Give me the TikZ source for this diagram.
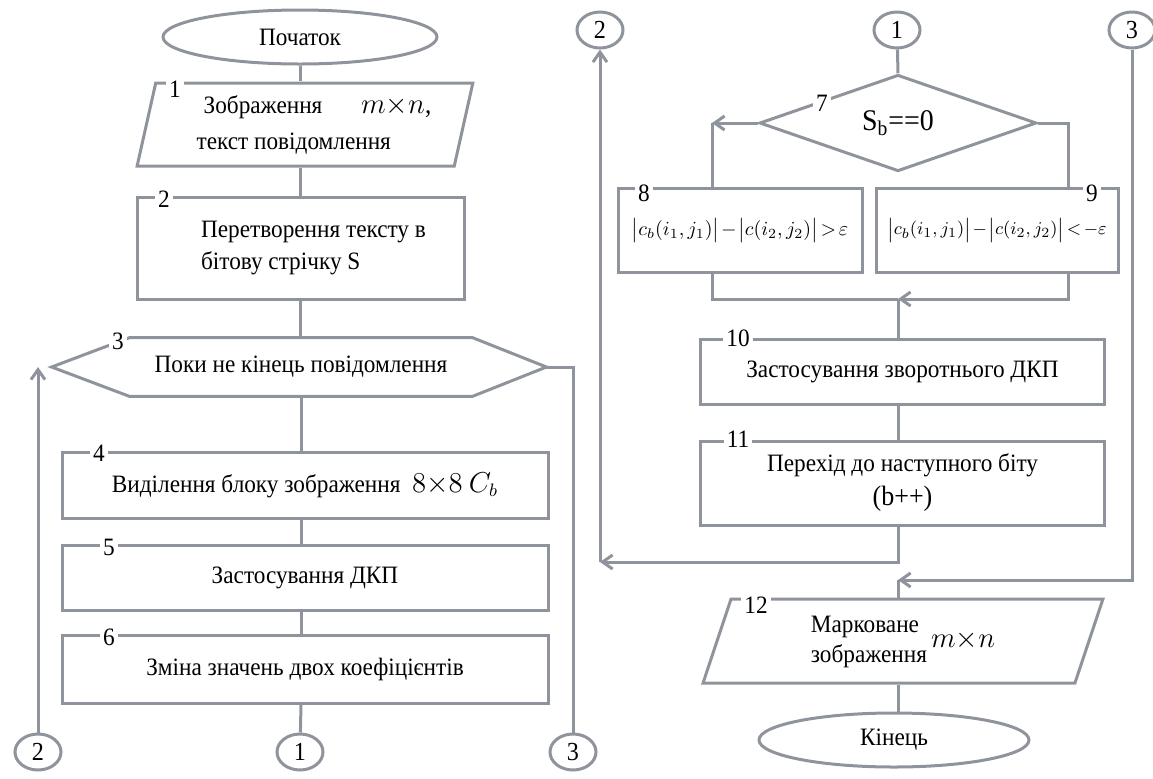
\documentclass[tikz,border=0pt]{standalone}
\usepackage{fontspec}
\setmainfont{Liberation Serif}[FakeStretch=0.93]
\usetikzlibrary{shapes.geometric,arrows.meta}
\definecolor{linegray}{RGB}{143,148,156}

\tikzset{
  line/.style={draw=linegray, line width=1.5pt},
  block/.style={line, rectangle, align=center, inner sep=2pt},
  inout/.style={line, trapezium, trapezium stretches=true, align=center, inner sep=0pt},
  term/.style={line, ellipse, inner sep=0pt},
  conn/.style={line, ellipse, minimum width=23pt, minimum height=18pt, inner sep=0pt,
    font=\fontsize{13}{15}\selectfont},
  num/.style={fill=white, inner sep=1.5pt, font=\fontsize{12.5}{14}\selectfont},
}
\newcommand{\formula}[1]{\medmuskip=1.5mu\thickmuskip=2.5mu$#1$}

\begin{document}
\begin{tikzpicture}[x=0.5pt, y=-0.5pt, >={Straight Barb[length=5pt,width=7pt]},
  every node/.style={font=\fontsize{12.5}{15}\selectfont}]
  \useasboundingbox (0,0) rectangle (1153,778);

  % left column
  \node[term, minimum width=137pt, minimum height=27pt] (start) at (300,37) {Початок};
  \node[inout, trapezium left angle=75, trapezium right angle=105, align=left,
        minimum width=168pt, minimum height=41.5pt] (b1) at (305,124.5)
        {\hspace*{12.5pt}Зображення\hspace{1.55em}{\fontsize{13.5}{16}\selectfont$m{\times}n$,}\\[3pt]
         \hspace*{9pt}текст повідомлення};
  \node[block, minimum width=163.5pt, minimum height=51pt, align=left,
        font=\fontsize{12.5}{16}\selectfont] (b2) at (300.5,248)
        {\hspace*{13pt}Перетворення тексту в\\ \hspace*{13pt}бітову стрічку S};
  \node[minimum width=171pt, minimum height=29pt, inner sep=0pt] (n3) at (301,367)
        {Поки не кінець повідомлення};
  \coordinate (n3l) at ([xshift=-39pt]n3.west);
  \coordinate (n3r) at ([xshift=37pt]n3.east);
  \draw[line] (n3.north west) -- (n3.north east) -- (n3r) -- (n3.south east)
        -- (n3.south west) -- (n3l) -- cycle;
  \node[block, minimum width=243pt, minimum height=33pt] (b4) at (305,485)
        {Виділення блоку зображення \ {\fontsize{13.5}{15}\selectfont$8{\times}8\ C_b$}};
  \node[block, minimum width=243pt, minimum height=32.5pt] (b5) at (305,577.5)
        {Застосування ДКП};
  \node[block, minimum width=243pt, minimum height=34pt] (b6) at (305,669)
        {Зміна значень двох коефіцієнтів};
  \node[conn] (c2L) at (38,752) {2};
  \node[conn] (c1L) at (300,752) {1};
  \node[conn] (c3L) at (573,752) {3};

  \node[num] at (175,89) {1};
  \node[num] at (164,199) {2};
  \node[num] at (118,341) {3};
  \node[num] at (99,453) {4};
  \node[num] at (109,547) {5};
  \node[num] at (109,637) {6};

  \draw[line] (start.south) -- (start.south |- b1.north);
  \draw[line] (start.south |- b1.south) -- (start.south |- b2.north);
  \draw[line] (start.south |- b2.south) -- (start.south |- n3.north);
  \draw[line] (n3.south) -- (n3.south |- b4.north);
  \draw[line] (n3.south |- b4.south) -- (n3.south |- b5.north);
  \draw[line] (n3.south |- b5.south) -- (n3.south |- b6.north);
  \draw[line] (n3.south |- b6.south) -- (c1L);
  \draw[line,->] (c2L) -- (c2L |- n3l);
  \draw[line] (n3r) -| (c3L);

  % right column
  \node[conn] (c2R) at (600,30) {2};
  \node[conn] (c1R) at (897,30) {1};
  \node[conn] (c3R) at (1132,30) {3};
  \node[line, diamond, minimum width=138.5pt, minimum height=46pt, inner sep=0pt,
        font=\fontsize{15}{18}\selectfont] (d7) at (898,123) {S\textsubscript{b}==0};
  \node[block, minimum width=122pt, minimum height=42pt, inner sep=1pt,
        font=\fontsize{10}{12}\selectfont] (b8) at (740,230)
        {\formula{\bigl|c_b(i_1,j_1)\bigr|-\bigl|c(i_2,j_2)\bigr|>\varepsilon}};
  \node[block, minimum width=121pt, minimum height=42pt, inner sep=1pt,
        font=\fontsize{9.5}{12}\selectfont] (b9) at (997,230)
        {\formula{\bigl|c_b(i_1,j_1)\bigr|-\bigl|c(i_2,j_2)\bigr|<{-}\varepsilon}};
  \node[block, minimum width=202pt, minimum height=32.5pt] (b10) at (902.5,372)
        {Застосування зворотнього ДКП};
  \node[block, minimum width=202pt, minimum height=42pt] (b11) at (902.5,483)
        {Перехід до наступного біту\\[2pt] {\fontsize{14}{16}\selectfont (b++)}};
  \node[inout, trapezium left angle=76, trapezium right angle=104,
        minimum width=200pt, minimum height=42pt] (b12) at (903,641)
        {\begin{tabular}{@{}l@{}}Марковане\\ зображення\end{tabular}\,{\fontsize{14}{16}\selectfont$m{\times}n$}};
  \node[term, minimum width=135pt, minimum height=27pt] (end) at (894,740) {Кінець};

  \node[num] at (822,103) {7};
  \node[num] at (644,193) {8};
  \node[num] at (1092,193) {9};
  \node[num] at (738,338) {10};
  \node[num] at (738,439) {11};
  \node[num] at (756,605) {12};

  \coordinate (d7l) at (712,123);
  \coordinate (d7r) at (1068,123);
  \coordinate (m10) at (898,299);
  \coordinate (ret2) at (600,562);
  \coordinate (in12) at (898,580);

  \draw[line] (c1R) -- (d7.north);
  \draw[line,->] (d7.west) -- (d7l);
  \draw[line] (d7l) -- (d7l |- b8.north);
  \draw[line] (d7.east) -- (d7r) -- (d7r |- b9.north);
  \draw[line] (d7l |- b8.south) |- (m10);
  \draw[line,->] (d7r |- b9.south) |- (m10);
  \draw[line] (m10) -- (m10 |- b10.north);
  \draw[line] (m10 |- b10.south) -- (m10 |- b11.north);
  \draw[line,->] (m10 |- b11.south) |- (ret2);
  \draw[line,->] (ret2) -- (c2R);
  \draw[line,->] (c3R) |- (in12);
  \draw[line] (in12) -- (in12 |- b12.north);
  \draw[line] (in12 |- b12.south) -- (in12 |- end.north);
\end{tikzpicture}
\end{document}
